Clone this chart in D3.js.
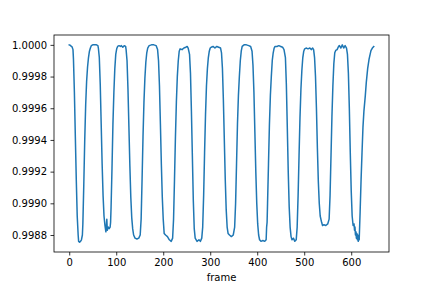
<!DOCTYPE html>
<html>
<head>
<meta charset="utf-8">
<script src="https://cdnjs.cloudflare.com/ajax/libs/d3/7.8.5/d3.min.js"></script>
<style>
  body { margin: 0; background: #fff; }
  svg { display: block; font-family: "DejaVu Sans", sans-serif; }
</style>
</head>
<body>
<div id="chart"></div>
<script>
// values
var frame = [
  0, 2, 4, 6, 8, 9, 11, 13, 15, 17, 19, 20, 22, 24, 26, 28,
  29, 31, 33, 35, 37, 39, 41, 43, 45, 47, 50, 54, 58, 61,
  62, 64, 66, 68, 70, 72, 74, 76, 78, 79, 80, 81, 83, 85, 87, 88,
  89, 91, 93, 95, 97, 99, 101, 103, 106, 109, 111, 114, 117, 120,
  121, 123, 125, 127, 129, 131, 133, 135, 137, 140, 144, 148, 151,
  153, 155, 157, 159, 161, 163, 165, 167, 170, 175, 180, 185,
  188, 190, 192, 194, 196, 198, 200, 202, 205, 209, 213, 217, 220,
  222, 224, 226, 228, 230, 232, 234, 236, 240, 244, 248, 251, 253,
  256, 258, 260, 262, 264, 266, 268, 272, 276, 279, 282,
  284, 286, 288, 290, 292, 294, 296, 298, 300, 302, 306, 310, 314, 318, 322,
  324, 326, 328, 330, 332, 334, 336, 338, 341, 345, 349,
  352, 354, 356, 358, 360, 362, 364, 366, 368, 372, 377, 382, 386,
  389, 391, 393, 395, 397, 399, 401, 403, 405, 408, 412, 416, 419,
  420, 421, 422, 424, 426, 428, 430, 432, 434, 436, 438, 442, 446, 450, 454, 457,
  460, 462, 464, 466, 468, 470, 472, 474, 477, 480, 483,
  485, 487, 489, 491, 493, 495, 497, 499, 501, 504, 508, 512, 515, 518, 520,
  522, 524, 526, 528, 530, 532, 534, 537, 539, 542, 546, 550, 553,
  555, 557, 559, 561, 563, 565, 567, 570, 573, 575, 578, 581, 584, 587, 590,
  592, 594, 596, 598, 600, 602, 604, 606, 607, 608, 609, 610, 611, 612, 613, 614, 615, 616, 617,
  619, 621, 623, 625, 627, 630, 632, 635, 638, 642, 645, 648
];

var flux = [
  1.000000, 0.999998, 0.999992, 0.999988, 0.999970, 0.999910, 0.999700, 0.999420, 0.999150, 0.998920, 0.998800, 0.998760, 0.998755, 0.998760, 0.998770, 0.998800,
  0.998870, 0.999120, 0.999400, 0.999620, 0.999770, 0.999860, 0.999920, 0.999960, 0.999980, 0.999995, 1.000000, 1.000000, 1.000000, 0.999995,
  0.999980, 0.999920, 0.999750, 0.999500, 0.999250, 0.999050, 0.998920, 0.998860, 0.998820, 0.998860, 0.998900, 0.998830, 0.998850, 0.998840, 0.998850, 0.998880,
  0.998970, 0.999220, 0.999500, 0.999700, 0.999850, 0.999940, 0.999975, 0.999990, 0.999995, 0.999990, 0.999995, 0.999985, 0.999995, 0.999990,
  0.999970, 0.999900, 0.999720, 0.999480, 0.999240, 0.999040, 0.998910, 0.998840, 0.998800, 0.998780, 0.998775, 0.998780, 0.998800,
  0.998900, 0.999150, 0.999420, 0.999640, 0.999790, 0.999890, 0.999950, 0.999980, 0.999995, 1.000000, 1.000000, 0.999995,
  0.999970, 0.999900, 0.999740, 0.999500, 0.999250, 0.999040, 0.998900, 0.998810, 0.998800, 0.998790, 0.998770, 0.998760, 0.998780,
  0.998900, 0.999150, 0.999420, 0.999640, 0.999800, 0.999900, 0.999960, 0.999975, 0.999970, 0.999980, 0.999985, 0.999990, 0.999980,
  0.999940, 0.999820, 0.999580, 0.999300, 0.999020, 0.998840, 0.998780, 0.998760, 0.998770, 0.998760, 0.998780,
  0.998850, 0.999050, 0.999320, 0.999560, 0.999740, 0.999850, 0.999920, 0.999960, 0.999980, 0.999985, 0.999990, 0.999980, 0.999990, 0.999985, 0.999980,
  0.999950, 0.999850, 0.999650, 0.999400, 0.999150, 0.998960, 0.998850, 0.998810, 0.998800, 0.998790, 0.998800,
  0.998850, 0.999000, 0.999250, 0.999500, 0.999680, 0.999800, 0.999900, 0.999960, 0.999990, 1.000000, 1.000000, 0.999995, 0.999990,
  0.999960, 0.999870, 0.999700, 0.999450, 0.999200, 0.999000, 0.998870, 0.998800, 0.998770, 0.998760, 0.998765, 0.998760, 0.998770,
  0.998850, 0.998880, 0.999000, 0.999250, 0.999500, 0.999680, 0.999800, 0.999900, 0.999950, 0.999980, 0.999990, 0.999990, 0.999995, 0.999990, 0.999985, 0.999970,
  0.999920, 0.999750, 0.999480, 0.999200, 0.998980, 0.998850, 0.998790, 0.998770, 0.998780, 0.998760, 0.998770,
  0.998850, 0.999050, 0.999300, 0.999540, 0.999720, 0.999840, 0.999920, 0.999960, 0.999975, 0.999980, 0.999975, 0.999980, 0.999970, 0.999980, 0.999970,
  0.999920, 0.999800, 0.999600, 0.999350, 0.999140, 0.999000, 0.998920, 0.998880, 0.998860, 0.998865, 0.998860, 0.998870, 0.998900,
  0.999050, 0.999300, 0.999550, 0.999740, 0.999880, 0.999950, 0.999965, 0.999970, 0.999990, 0.999995, 0.999980, 1.000000, 0.999980, 0.999995, 0.999980,
  0.999940, 0.999820, 0.999600, 0.999320, 0.999080, 0.998920, 0.998860, 0.998870, 0.998830, 0.998850, 0.998800, 0.998820, 0.998780, 0.998810, 0.998770, 0.998800, 0.998760, 0.998780, 0.998770,
  0.998950, 0.999150, 0.999320, 0.999480, 0.999580, 0.999680, 0.999760, 0.999850, 0.999910, 0.999964, 0.999980, 0.999990
];

var xTicks = [0, 100, 200, 300, 400, 500, 600];
var yTicks = [0.9988, 0.9990, 0.9992, 0.9994, 0.9996, 0.9998, 1.0000];

var width = 432, height = 288;
var margin = {left: 54, right: 43, top: 35, bottom: 36};

var svg = d3.select('#chart').append('svg')
    .attr('width', width)
    .attr('height', height);

svg.append('rect').attr('width', width).attr('height', height).attr('fill', '#fff');

var xMin = d3.min(frame), xMax = d3.max(frame);
var xPad = (xMax - xMin) * 0.05;
var yMin = d3.min(flux), yMax = d3.max(flux);
var yPad = (yMax - yMin) * 0.05;

var x = d3.scaleLinear()
    .domain([xMin - xPad, xMax + xPad])
    .range([margin.left, width - margin.right]);

var y = d3.scaleLinear()
    .domain([yMin - yPad, yMax + yPad])
    .range([height - margin.bottom, margin.top]);

var line = d3.line()
    .x((d, i) => x(frame[i]))
    .y(d => y(d));

svg.append('path')
    .datum(flux)
    .attr('fill', 'none')
    .attr('stroke', '#1f77b4')
    .attr('stroke-width', 1.5)
    .attr('stroke-linejoin', 'round')
    .attr('stroke-linecap', 'square')
    .attr('d', line);

var xAxis = svg.append('g')
    .attr('transform', `translate(0,${height - margin.bottom})`)
    .call(d3.axisBottom(x).tickValues(xTicks).tickSize(3.5).tickPadding(3.5).tickSizeOuter(0));

var yAxis = svg.append('g')
    .attr('transform', `translate(${margin.left},0)`)
    .call(d3.axisLeft(y).tickValues(yTicks).tickFormat(d3.format('.4f')).tickSize(3.5).tickPadding(3.5).tickSizeOuter(0));

[xAxis, yAxis].forEach(g => {
    g.select('.domain').remove();
    g.selectAll('line').attr('stroke', '#000').attr('stroke-width', 0.8);
    g.selectAll('text')
        .attr('fill', '#000')
        .attr('font-size', 10)
        .attr('font-family', '"DejaVu Sans", sans-serif');
});

// spines
svg.append('rect')
    .attr('x', margin.left)
    .attr('y', margin.top)
    .attr('width', width - margin.left - margin.right)
    .attr('height', height - margin.top - margin.bottom)
    .attr('fill', 'none')
    .attr('stroke', '#000')
    .attr('stroke-width', 0.8);

svg.append('text')
    .text('frame')
    .attr('x', (margin.left + width - margin.right) / 2)
    .attr('y', 281)
    .attr('text-anchor', 'middle')
    .attr('font-size', 10)
    .attr('fill', '#000');
</script>
</body>
</html>
